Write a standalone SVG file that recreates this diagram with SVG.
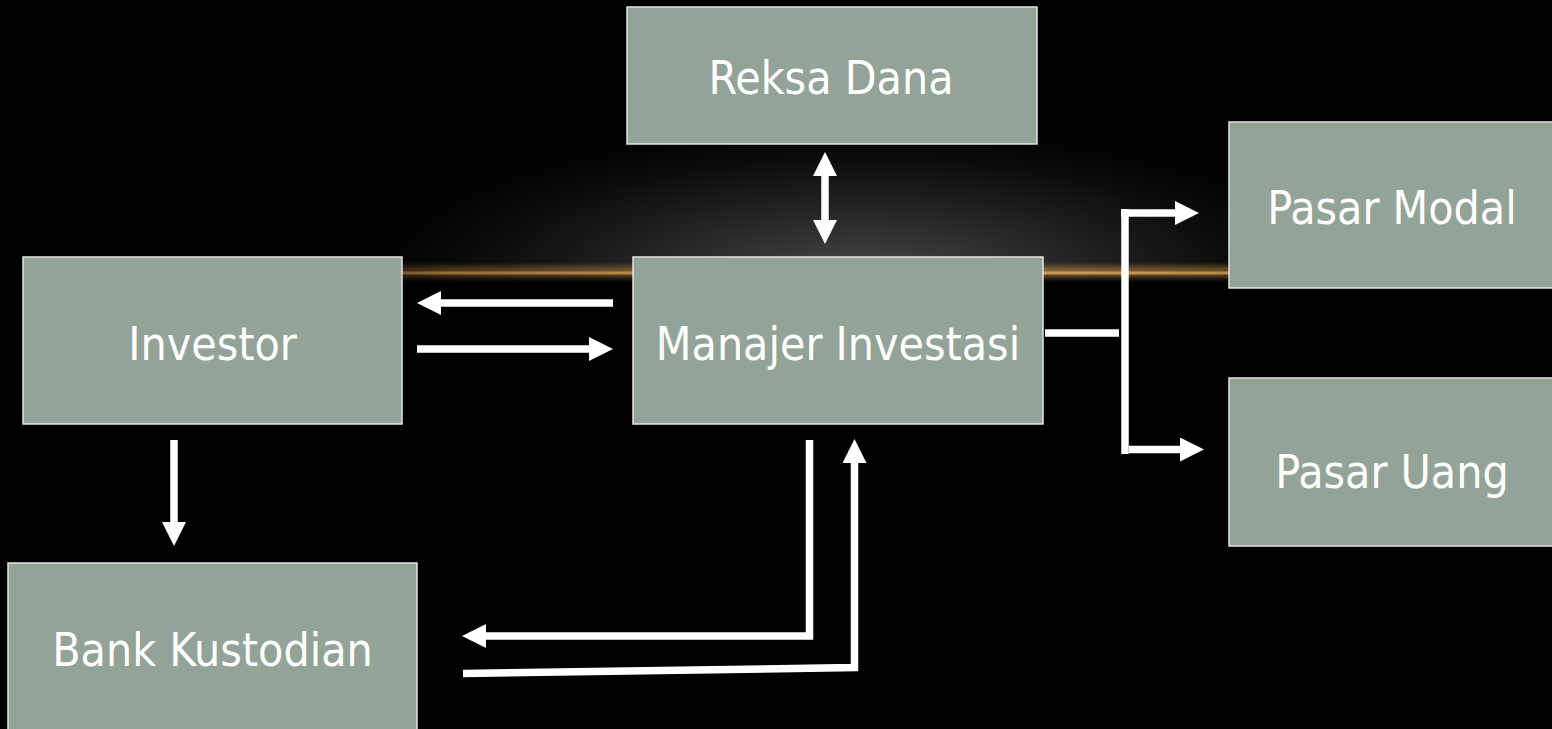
<svg xmlns="http://www.w3.org/2000/svg" width="1552" height="729" viewBox="0 0 1552 729">
<defs>
<style>
.box{fill:#93a398;stroke:#e4e4e4;stroke-width:1.5}
.lbl{font-family:"DejaVu Sans Condensed","DejaVu Sans",sans-serif;font-stretch:condensed;font-size:46px;fill:#ffffff;text-anchor:middle}
.ln{fill:none;stroke:#ffffff;stroke-width:7.5;stroke-linejoin:miter}
</style>
<radialGradient id="glow" cx="860" cy="272" r="500" gradientUnits="userSpaceOnUse" gradientTransform="translate(860 272) scale(1 0.3) translate(-860 -272)">
<stop offset="0" stop-color="#464646"/>
<stop offset="0.4" stop-color="#262626"/>
<stop offset="0.75" stop-color="#0c0c0c"/>
<stop offset="1" stop-color="#000000"/>
</radialGradient>
<linearGradient id="gold" x1="280" y1="0" x2="1420" y2="0" gradientUnits="userSpaceOnUse">
<stop offset="0" stop-color="#c89040" stop-opacity="0"/>
<stop offset="0.15" stop-color="#b07e3a" stop-opacity="0.75"/>
<stop offset="0.5" stop-color="#e0a855" stop-opacity="1"/>
<stop offset="0.85" stop-color="#c89448" stop-opacity="0.85"/>
<stop offset="1" stop-color="#c89040" stop-opacity="0"/>
</linearGradient>
<filter id="blur" x="-5%" y="-200%" width="110%" height="500%">
<feGaussianBlur stdDeviation="2.5"/>
</filter>
<marker id="ah" viewBox="0 0 24 24" refX="0" refY="12" markerWidth="24" markerHeight="24" markerUnits="userSpaceOnUse" orient="auto-start-reverse">
<path d="M0,0 L24,12 L0,24 z" fill="#ffffff"/>
</marker>
</defs>
<rect x="0" y="0" width="1552" height="729" fill="#000000"/>
<rect x="0" y="0" width="1552" height="273" fill="url(#glow)"/>
<rect x="280" y="266" width="1140" height="12" fill="url(#gold)" opacity="0.55" filter="url(#blur)"/>
<rect x="280" y="271.5" width="1140" height="3" fill="url(#gold)"/>

<g id="connectors">
<line class="ln" x1="825" y1="176" x2="825" y2="220" marker-start="url(#ah)" marker-end="url(#ah)"/>
<line class="ln" x1="613" y1="303" x2="441" y2="303" marker-end="url(#ah)"/>
<line class="ln" x1="417" y1="349" x2="589" y2="349" marker-end="url(#ah)"/>
<line class="ln" x1="1045" y1="333" x2="1119" y2="333"/>
<line class="ln" x1="1125" y1="209" x2="1125" y2="454"/>
<line class="ln" x1="1121" y1="213" x2="1175" y2="213" marker-end="url(#ah)"/>
<line class="ln" x1="1129" y1="449.5" x2="1180" y2="449.5" marker-end="url(#ah)"/>
<line class="ln" x1="174" y1="440" x2="174" y2="522" marker-end="url(#ah)"/>
<polyline class="ln" points="809.5,440 809.5,636 486,636" marker-end="url(#ah)"/>
<polyline class="ln" points="463,673.5 854.5,667.5 854.5,463" marker-end="url(#ah)"/>
</g>

<g id="reksa-dana">
<rect class="box" x="627" y="7" width="410" height="137"/>
<text class="lbl" x="831" y="94">Reksa Dana</text>
</g>
<g id="manajer-investasi">
<rect class="box" x="633" y="257" width="410" height="167"/>
<text class="lbl" x="838" y="360">Manajer Investasi</text>
</g>
<g id="investor">
<rect class="box" x="23" y="257" width="379" height="167"/>
<text class="lbl" x="212.5" y="360">Investor</text>
</g>
<g id="bank-kustodian">
<rect class="box" x="8" y="563" width="409" height="175"/>
<text class="lbl" x="212.5" y="666">Bank Kustodian</text>
</g>
<g id="pasar-modal">
<rect class="box" x="1229" y="122" width="330" height="166"/>
<text class="lbl" x="1392" y="224">Pasar Modal</text>
</g>
<g id="pasar-uang">
<rect class="box" x="1229" y="378" width="330" height="168"/>
<text class="lbl" x="1392" y="488">Pasar Uang</text>
</g>
</svg>
